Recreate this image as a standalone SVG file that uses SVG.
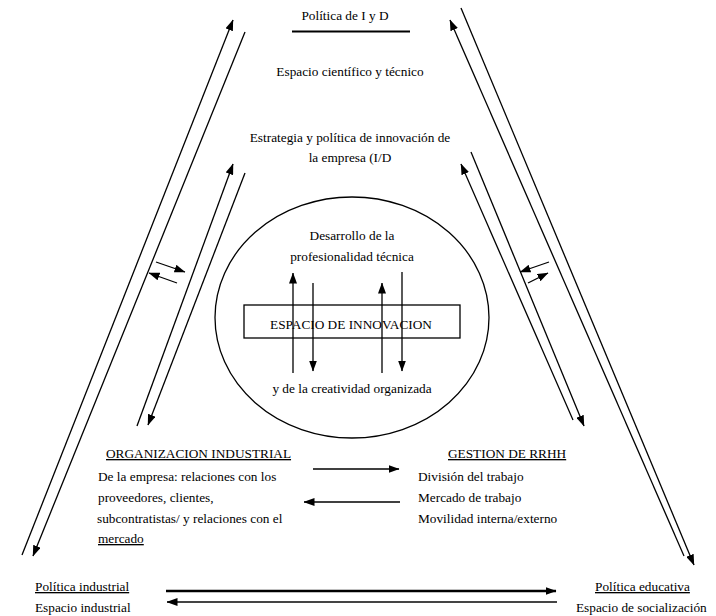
<svg xmlns="http://www.w3.org/2000/svg" width="716" height="616" viewBox="0 0 716 616">
<style>
text{font-family:"Liberation Serif","Times New Roman",serif;font-size:13.3px;fill:#000}
.c{text-anchor:middle}
.u{text-decoration:underline}
.ln{stroke:#000;stroke-width:1.3;fill:none}
</style>
<defs>
<marker id="ah" viewBox="0 0 11 8" markerWidth="11" markerHeight="8" refX="10.5" refY="4" orient="auto" markerUnits="userSpaceOnUse">
<path d="M0,0 L11,4 L0,8 z" fill="#000"/>
</marker>
</defs>
<rect width="716" height="616" fill="#fff"/>
<g id="connectors">
<line class="ln" x1="22" y1="555" x2="233" y2="20" marker-end="url(#ah)"/>
<line class="ln" x1="245" y1="32" x2="33" y2="556" marker-end="url(#ah)"/>
<line class="ln" x1="137" y1="426" x2="233" y2="164" marker-end="url(#ah)"/>
<line class="ln" x1="245" y1="173" x2="148" y2="425" marker-end="url(#ah)"/>
<line class="ln" x1="156" y1="262" x2="185" y2="272" marker-end="url(#ah)"/>
<line class="ln" x1="177" y1="283" x2="149" y2="273" marker-end="url(#ah)"/>
<line class="ln" x1="684" y1="556" x2="450" y2="20" marker-end="url(#ah)"/>
<line class="ln" x1="461" y1="8" x2="694" y2="565" marker-end="url(#ah)"/>
<line class="ln" x1="573" y1="420" x2="461" y2="164" marker-end="url(#ah)"/>
<line class="ln" x1="471" y1="152" x2="584" y2="426" marker-end="url(#ah)"/>
<line class="ln" x1="549" y1="262" x2="520" y2="272" marker-end="url(#ah)"/>
<line class="ln" x1="528" y1="283" x2="548" y2="273" marker-end="url(#ah)"/>
<line class="ln" x1="293" y1="373" x2="293" y2="273" marker-end="url(#ah)"/>
<line class="ln" x1="313" y1="283" x2="313" y2="371" marker-end="url(#ah)"/>
<line class="ln" x1="382" y1="373" x2="382" y2="283" marker-end="url(#ah)"/>
<line class="ln" x1="402" y1="272" x2="402" y2="371" marker-end="url(#ah)"/>
<line class="ln" x1="313" y1="469" x2="399" y2="469" marker-end="url(#ah)"/>
<line class="ln" x1="400" y1="502" x2="304" y2="502" marker-end="url(#ah)"/>
<line x1="166" y1="591" x2="556" y2="591" stroke="#000" stroke-width="2.5" marker-end="url(#ah)"/>
<line x1="557" y1="602" x2="167" y2="602" stroke="#444" stroke-width="2" marker-end="url(#ah)"/>
</g>
<g id="politica-id">
<text x="345" y="20" class="c">Política de I y D</text>
<line x1="292" y1="31.5" x2="410" y2="31.5" stroke="#000" stroke-width="2"/>
</g>
<g id="espacio-cientifico">
<text x="350" y="76" class="c">Espacio científico y técnico</text>
</g>
<g id="estrategia">
<text x="350" y="142" class="c">Estrategia y política de innovación de</text>
<text x="350" y="162" class="c">la empresa (I/D</text>
</g>
<g id="espacio-innovacion">
<ellipse class="ln" cx="352" cy="317.5" rx="137" ry="120.5"/>
<text x="352" y="240" class="c">Desarrollo de la</text>
<text x="352" y="261" class="c">profesionalidad técnica</text>
<rect class="ln" x="244" y="305" width="216" height="33"/>
<text x="351" y="328.5" class="c">ESPACIO DE INNOVACION</text>
<text x="352" y="393" class="c">y de la creatividad organizada</text>
</g>
<g id="org-industrial">
<text x="106" y="458" class="u">ORGANIZACION INDUSTRIAL</text>
<text x="98" y="480.5">De la empresa: relaciones con los</text>
<text x="98" y="502">proveedores, clientes,</text>
<text x="97" y="523">subcontratistas/ y relaciones con el</text>
<text x="98" y="543" class="u">mercado</text>
</g>
<g id="gestion-rrhh">
<text x="448" y="458" class="u">GESTION DE RRHH</text>
<text x="418" y="480.5">División del trabajo</text>
<text x="418" y="502">Mercado de trabajo</text>
<text x="418" y="523">Movilidad interna/externo</text>
</g>
<g id="politica-industrial">
<text x="35" y="591" class="u">Política industrial</text>
<text x="35" y="612">Espacio industrial</text>
</g>
<g id="politica-educativa">
<text x="595" y="591" class="u">Política educativa</text>
<text x="576" y="612">Espacio de socialización</text>
</g>
</svg>
